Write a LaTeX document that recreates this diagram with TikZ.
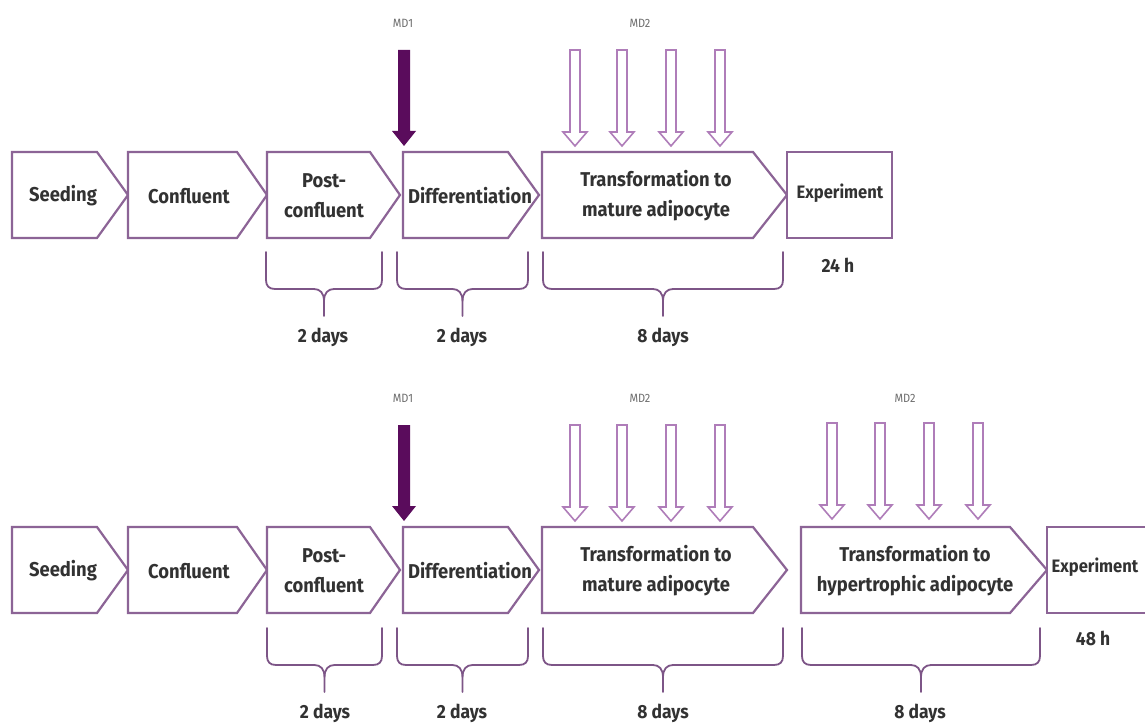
\documentclass[tikz,border=0pt]{standalone}
\usepackage{fontspec}
\setmainfont{Fira Sans}[FakeStretch=0.92]
\definecolor{boxc}{RGB}{140,100,150}
\definecolor{brkc}{RGB}{125,85,135}
\definecolor{hollc}{RGB}{175,125,185}
\definecolor{mdone}{RGB}{90,12,92}
\definecolor{txtc}{RGB}{50,50,50}
\definecolor{mdtxt}{RGB}{110,110,110}
\tikzset{
  boxline/.style={draw=boxc,line width=2.2pt,line join=miter,fill=white},
  brk/.style={draw=brkc,line width=1.8pt,line cap=round},
  hollow/.style={draw=hollc,line width=1.6pt,fill=white,line join=miter},
  solidarrow/.style={fill=mdone,draw=none},
  lbl/.style={text=txtc,font=\bfseries\fontsize{20}{30}\selectfont,align=center,inner sep=0pt},
  smalllbl/.style={text=txtc,font=\bfseries\fontsize{18}{22}\selectfont,inner sep=0pt},
  daylbl/.style={text=txtc,font=\bfseries\fontsize{19}{22}\selectfont,inner sep=0pt},
  mdlbl/.style={text=mdtxt,font=\fontsize{12}{14}\selectfont,inner sep=0pt}
}
\newcommand\chevbox[4]{\draw[boxline] (#1,#4) -- (#2,#4) -- (#3,#4+43) -- (#2,#4+86) -- (#1,#4+86) -- cycle;}
\newcommand\hollowarr[3]{\draw[hollow] (#1-5,#2) -- (#1+5,#2) -- (#1+5,#3-14) -- (#1+12,#3-14) -- (#1,#3) -- (#1-12,#3-14) -- (#1-5,#3-14) -- cycle;}
\newcommand\solidarr[3]{\fill[solidarrow] (#1-6,#2) -- (#1+6,#2) -- (#1+6,#3-15) -- (#1+12,#3-15) -- (#1,#3) -- (#1-12,#3-15) -- (#1-6,#3-15) -- cycle;}
\newcommand\daybrace[5]{% xl xr ytop yh ytip
  \pgfmathsetmacro\bxc{(#1+#2)/2}
  \draw[brk] (#1,#3) -- (#1,#4-9) .. controls (#1,#4-3) and (#1+3,#4) .. (#1+9,#4) -- (\bxc-10,#4) .. controls (\bxc-4,#4) and (\bxc,#4+4) .. (\bxc,#4+12) -- (\bxc,#5);
  \draw[brk] (#2,#3) -- (#2,#4-9) .. controls (#2,#4-3) and (#2-3,#4) .. (#2-9,#4) -- (\bxc+10,#4) .. controls (\bxc+4,#4) and (\bxc,#4+4) .. (\bxc,#4+12);
}
\begin{document}
\begin{tikzpicture}[x=1pt,y=-1pt]
\useasboundingbox[fill=white] (0,0) rectangle (1145,727);

% ---------------- top row ----------------
\chevbox{12}{97}{128}{152}
\chevbox{128}{237}{267}{152}
\chevbox{267}{370}{400}{152}
\chevbox{403}{508}{539}{152}
\chevbox{542}{753}{787}{152}
\draw[boxline] (787,152) rectangle (892,238);

\node[lbl] (seed1) at (63,196) {Seeding};
\node[lbl] (conf1) at (189,196) {Confluent};
\node[lbl] (post1) at (324,196) {Post-\\confluent};
\node[lbl] (diff1) at (470,196) {Differentiation};
\node[lbl] (mat1) at (656,196) {Transformation to\\mature adipocyte};
\node[smalllbl] (exp1) at (840,193) {Experiment};

\node[mdlbl] (md1a) at (403,23) {MD1};
\node[mdlbl] (md2a) at (640,23) {MD2};
\solidarr{404}{50}{146}
\hollowarr{575}{50}{146}
\hollowarr{622}{50}{146}
\hollowarr{671}{50}{146}
\hollowarr{720}{50}{146}

\daybrace{266}{382}{252}{289}{316}
\daybrace{397}{528}{252}{289}{316}
\daybrace{543}{783}{252}{289}{316}
\node[daylbl] (d1a) at (323,337) {2 days};
\node[daylbl] (d1b) at (462,337) {2 days};
\node[daylbl] (d1c) at (663,337) {8 days};
\node[daylbl] (h24) at (838,265) {24 h};

% ---------------- bottom row ----------------
\chevbox{12}{97}{128}{527}
\chevbox{128}{237}{267}{527}
\chevbox{267}{370}{400}{527}
\chevbox{403}{508}{539}{527}
\chevbox{542}{753}{787}{527}
\chevbox{801}{1010}{1047}{527}
\draw[boxline] (1047,527) rectangle (1155,613);

\node[lbl] (seed2) at (63,571) {Seeding};
\node[lbl] (conf2) at (189,571) {Confluent};
\node[lbl] (post2) at (324,571) {Post-\\confluent};
\node[lbl] (diff2) at (470,571) {Differentiation};
\node[lbl] (mat2) at (656,571) {Transformation to\\mature adipocyte};
\node[lbl] (hyp2) at (915,571) {Transformation to\\hypertrophic adipocyte};
\node[smalllbl] (exp2) at (1095,567) {Experiment};

\node[mdlbl] (md1b) at (403,398) {MD1};
\node[mdlbl] (md2b) at (640,398) {MD2};
\node[mdlbl] (md2c) at (905,398) {MD2};
\solidarr{404}{425}{521}
\hollowarr{575}{425}{521}
\hollowarr{622}{425}{521}
\hollowarr{671}{425}{521}
\hollowarr{720}{425}{521}
\hollowarr{832}{423}{519}
\hollowarr{880}{423}{519}
\hollowarr{929}{423}{519}
\hollowarr{978}{423}{519}

\daybrace{267}{382}{628}{665}{692}
\daybrace{397}{528}{628}{665}{692}
\daybrace{543}{783}{628}{665}{692}
\daybrace{802}{1040}{628}{665}{692}
\node[daylbl] (d2a) at (325,713) {2 days};
\node[daylbl] (d2b) at (462,713) {2 days};
\node[daylbl] (d2c) at (663,713) {8 days};
\node[daylbl] (d2d) at (920,713) {8 days};
\node[daylbl] (h48) at (1093,638) {48 h};
\end{tikzpicture}
\end{document}
